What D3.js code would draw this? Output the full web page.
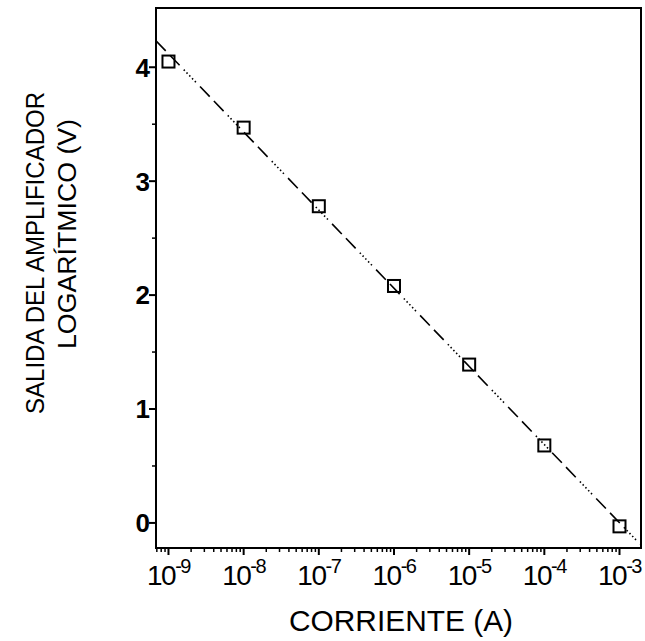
<!DOCTYPE html>
<html>
<head>
<meta charset="utf-8">
<script src="https://cdn.jsdelivr.net/npm/d3@7"></script>
<style>
  body { margin: 0; background: #fff; }
  svg { display: block; }
  text { font-family: "Liberation Sans", Arial, sans-serif; fill: #000; }
</style>
</head>
<body>
<script>
// data
var currents = [1e-9, 1e-8, 1e-7, 1e-6, 1e-5, 1e-4, 1e-3];
var outputs  = [4.05, 3.47, 2.78, 2.08, 1.39, 0.68, -0.03];
var xTickExps = [-9, -8, -7, -6, -5, -4, -3];
var yTicks = [0, 1, 2, 3, 4];
var yMinor = [0.5, 1.5, 2.5, 3.5];

var W = 645, H = 641;
var margin = {top: 8, right: 4, bottom: 93, left: 156},
    width = W - margin.left - margin.right,
    height = H - margin.top - margin.bottom;

var svg = d3.select("body").append("svg")
  .attr("width", W)
  .attr("height", H);

var g = svg.append("g")
  .attr("transform", "translate(" + margin.left + "," + margin.top + ")");

// scales
var x = d3.scaleLog()
  .domain([Math.pow(10, -9.166), Math.pow(10, -2.714)])
  .range([0, width]);

var y = d3.scaleLinear()
  .domain([-0.22, 4.52])
  .range([height, 0]);

// clip
g.append("clipPath").attr("id", "clip")
  .append("rect").attr("width", width).attr("height", height);

// linear fit of output vs log10(current)
var lx = currents.map(function(d) { return Math.log10(d); });
var mx = d3.mean(lx), my = d3.mean(outputs);
var sxy = d3.sum(lx, function(d, i) { return (d - mx) * (outputs[i] - my); });
var sxx = d3.sum(lx, function(d) { return (d - mx) * (d - mx); });
var slope = sxy / sxx, icpt = my - slope * mx;
var fitPts = x.domain().map(function(c) { return [c, icpt + slope * Math.log10(c)]; });

g.append("path")
  .datum(fitPts)
  .attr("clip-path", "url(#clip)")
  .attr("fill", "none")
  .attr("stroke", "#000")
  .attr("stroke-width", 1.6)
  .attr("stroke-dasharray", "14,6,14,6,1.5,2.5,1.5,2.5,1.5,2.5,1.5,2.5,1.5,6")
  .attr("d", d3.line()
    .x(function(d) { return x(d[0]); })
    .y(function(d) { return y(d[1]); }));

// markers
var sq = 12;
g.selectAll(".pt")
  .data(currents)
  .enter().append("rect")
  .attr("class", "pt")
  .attr("x", function(d) { return x(d) - sq / 2; })
  .attr("y", function(d, i) { return y(outputs[i]) - sq / 2; })
  .attr("width", sq)
  .attr("height", sq)
  .attr("fill", "none")
  .attr("stroke", "#000")
  .attr("stroke-width", 2);

// frame
g.append("rect")
  .attr("width", width)
  .attr("height", height)
  .attr("fill", "none")
  .attr("stroke", "#000")
  .attr("stroke-width", 2);

// x axis ticks
var minorX = [];
for (var e = -10; e <= -3; e++) {
  for (var m = 2; m <= 9; m++) {
    var v = m * Math.pow(10, e);
    if (v > x.domain()[0] && v < x.domain()[1]) minorX.push(v);
  }
}
var xAxisG = g.append("g").attr("transform", "translate(0," + height + ")");
xAxisG.selectAll(".xminor")
  .data(minorX)
  .enter().append("line")
  .attr("x1", function(d) { return x(d); })
  .attr("x2", function(d) { return x(d); })
  .attr("y1", 0).attr("y2", 4)
  .attr("stroke", "#000").attr("stroke-width", 1.5);
xAxisG.selectAll(".xmajor")
  .data(xTickExps)
  .enter().append("line")
  .attr("x1", function(d) { return x(Math.pow(10, d)); })
  .attr("x2", function(d) { return x(Math.pow(10, d)); })
  .attr("y1", 0).attr("y2", 7)
  .attr("stroke", "#000").attr("stroke-width", 2);

var xl = xAxisG.selectAll(".xlab")
  .data(xTickExps)
  .enter().append("text")
  .attr("x", function(d) { return x(Math.pow(10, d)); })
  .attr("y", 37)
  .attr("text-anchor", "middle")
  .style("font-size", "28px")
  .style("letter-spacing", "-1.5px");
xl.append("tspan").text("10");
xl.append("tspan")
  .attr("dy", -12)
  .style("font-size", "20px")
  .text(function(d) { return d; });

// y axis ticks
var yAxisG = g.append("g");
yAxisG.selectAll(".yminor")
  .data(yMinor)
  .enter().append("line")
  .attr("x1", -4).attr("x2", 0)
  .attr("y1", function(d) { return y(d); })
  .attr("y2", function(d) { return y(d); })
  .attr("stroke", "#000").attr("stroke-width", 1.5);
yAxisG.selectAll(".ymajor")
  .data(yTicks)
  .enter().append("line")
  .attr("x1", -7).attr("x2", 0)
  .attr("y1", function(d) { return y(d); })
  .attr("y2", function(d) { return y(d); })
  .attr("stroke", "#000").attr("stroke-width", 2);
yAxisG.selectAll(".ylab")
  .data(yTicks)
  .enter().append("text")
  .attr("x", -6)
  .attr("y", function(d) { return y(d); })
  .attr("dy", "0.36em")
  .attr("text-anchor", "end")
  .style("font-size", "26px")
  .style("font-weight", "bold")
  .text(function(d) { return d; });

// axis titles
svg.append("text")
  .attr("x", 401)
  .attr("y", 631)
  .attr("text-anchor", "middle")
  .attr("textLength", 224)
  .attr("lengthAdjust", "spacingAndGlyphs")
  .style("font-size", "30px")
  .text("CORRIENTE (A)");

svg.append("text")
  .attr("transform", "translate(44,253) rotate(-90)")
  .attr("text-anchor", "middle")
  .attr("textLength", 322)
  .attr("lengthAdjust", "spacingAndGlyphs")
  .style("font-size", "26px")
  .text("SALIDA DEL AMPLIFICADOR");

svg.append("text")
  .attr("transform", "translate(76,234) rotate(-90)")
  .attr("text-anchor", "middle")
  .attr("textLength", 230)
  .attr("lengthAdjust", "spacingAndGlyphs")
  .style("font-size", "26px")
  .text("LOGARÍTMICO (V)");
</script>
</body>
</html>
